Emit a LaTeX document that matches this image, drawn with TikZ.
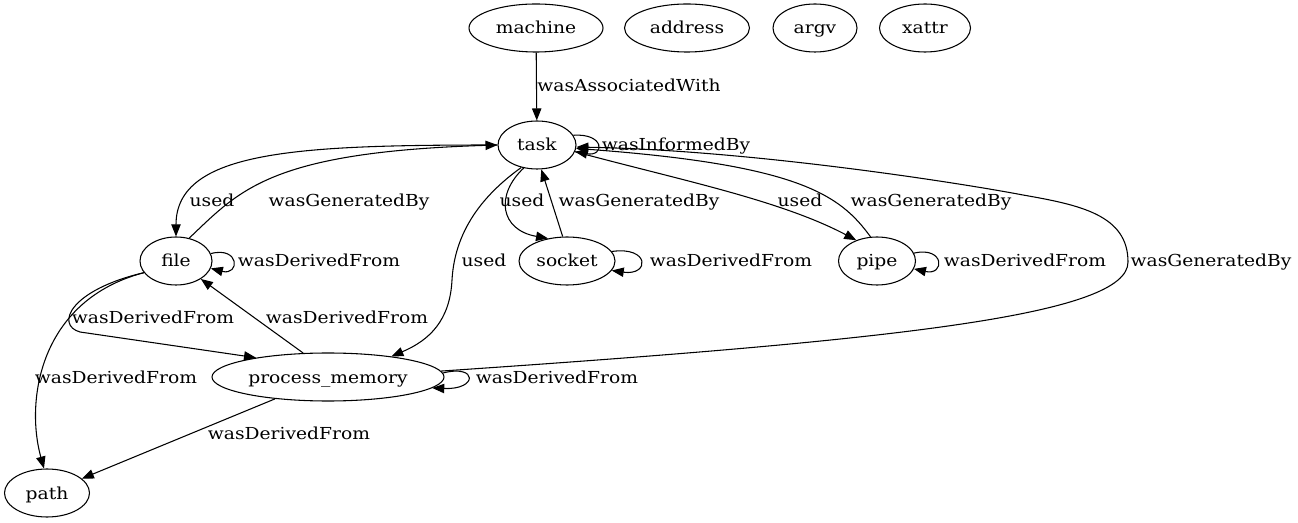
\documentclass[tikz,border=0pt]{standalone}
\usepackage{fontspec}
\setmainfont{DejaVu Serif}[FakeStretch=1.13]
\usetikzlibrary{arrows.meta,shapes.geometric}

\begin{document}
\begin{tikzpicture}[x=0.75pt,y=-0.75pt,line width=0.8pt,>={Triangle[length=9pt,width=7pt]},
  font=\fontsize{12.4}{14}\selectfont,
  every node/.append style={text height=11pt,text depth=2pt},
  ent/.style={draw,ellipse,minimum height=36pt,inner sep=0pt}]
\useasboundingbox (0,0) rectangle (1298,523);
\node[ent,minimum width=100.5pt] (machine) at (536,28) {machine};
\node[ent,minimum width=93.75pt] (address) at (687,28) {address};
\node[ent,minimum width=63pt] (argv) at (815,28) {argv};
\node[ent,minimum width=68.25pt] (xattr) at (925,28) {xattr};
\node[ent,minimum width=58.5pt] (task) at (537,145) {task};
\node[ent,minimum width=54pt] (file) at (176,261) {file};
\node[ent,minimum width=72pt] (socket) at (567,261) {socket};
\node[ent,minimum width=57.75pt] (pipe) at (877,261) {pipe};
\node[ent,minimum width=174pt] (pmem) at (328,377) {process\_memory};
\node[ent,minimum width=63.75pt] (pathn) at (47,493) {path};
% edges
\draw[->] (machine) -- (task);
\draw[->] (task.15) .. controls (605,133) and (605,157) .. (task.-10);
\draw[->] (task.west) .. controls (300,145) and (176,150) .. (file.north);
\draw[->] (file.60) .. controls (240,190) and (270,152) .. (task.west);
\draw[->] (task.240) .. controls (495,195) and (500,230) .. (socket.130);
\draw[->] (socket.100) -- (task.280);
\draw[->] (task.-10) .. controls (680,180) and (780,200) .. (pipe.135);
\draw[->] (pipe.105) .. controls (840,195) and (800,165) .. (task.-5);
\draw[->] (pmem.3) .. controls (900,340) and (1128,315) .. (1128,262)
  .. controls (1128,215) and (1080,205) .. (1023,195)
  .. controls (960,183) and (750,150) .. (task.-3);
\draw[->] (task.235) .. controls (490,190) and (455,225) .. (452,280)
  .. controls (450,320) and (430,340) .. (pmem.18);
\draw[->] (file.12) .. controls (240,246) and (240,276) .. (file.-12);
\draw[->] (socket.12) .. controls (650,246) and (650,276) .. (socket.-12);
\draw[->] (pipe.12) .. controls (945,246) and (945,276) .. (pipe.-12);
\draw[->] (pmem.2) .. controls (478,364) and (478,390) .. (pmem.-6);
\draw[->] (file.200) .. controls (70,290) and (55,325) .. (80,332) -- (pmem.165);
\draw[->] (pmem.136) -- (file);
\draw[->] (file.200) .. controls (40,300) and (25,400) .. (pathn.97);
\draw[->] (pmem) -- (pathn);
% labels
\node at (629,86) {wasAssociatedWith};
\node at (676,145) {wasInformedBy};
\node at (212,201) {used};
\node at (349,201) {wasGeneratedBy};
\node at (522,201) {used};
\node at (639,201) {wasGeneratedBy};
\node at (800,201) {used};
\node at (931,201) {wasGeneratedBy};
\node at (1211,261) {wasGeneratedBy};
\node at (484,261) {used};
\node at (319,261) {wasDerivedFrom};
\node at (731,261) {wasDerivedFrom};
\node at (1025,261) {wasDerivedFrom};
\node at (557,377) {wasDerivedFrom};
\node at (153,318) {wasDerivedFrom};
\node at (347,318) {wasDerivedFrom};
\node at (116,377) {wasDerivedFrom};
\node at (289,434) {wasDerivedFrom};
\end{tikzpicture}
\end{document}
